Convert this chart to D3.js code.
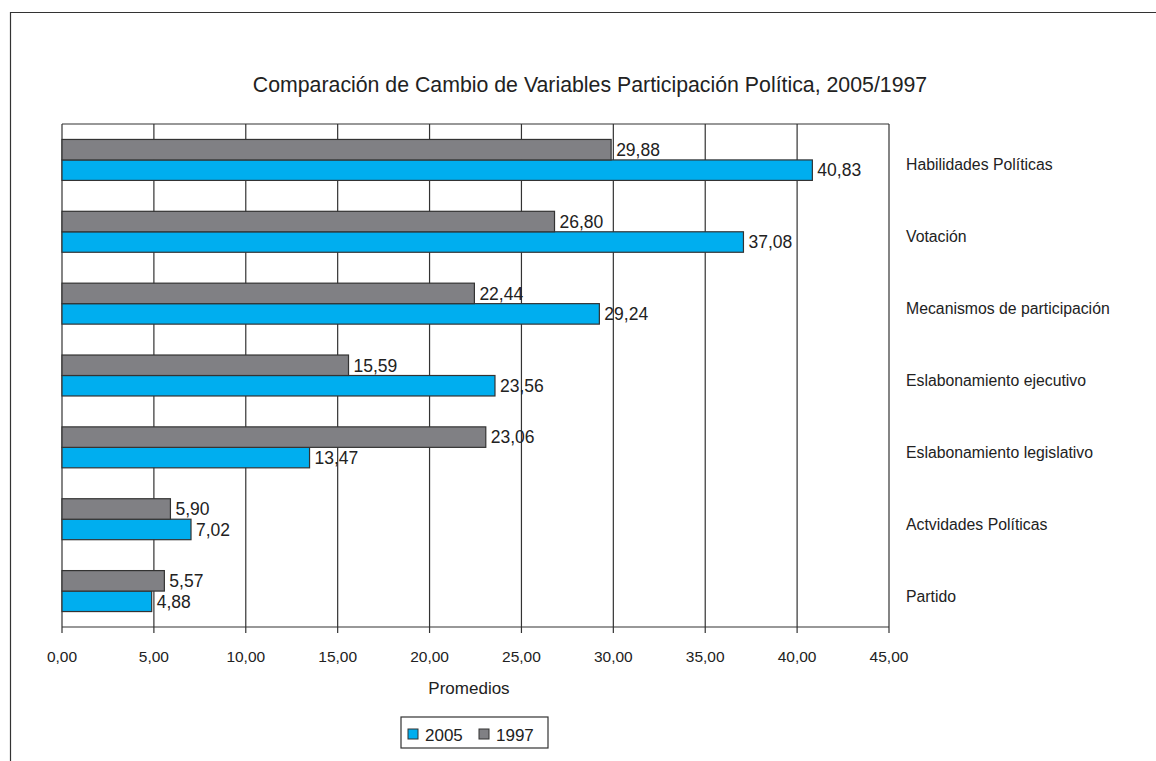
<!DOCTYPE html>
<html><head><meta charset="utf-8">
<script src="https://cdn.jsdelivr.net/npm/d3@7"></script>
<style>body{margin:0;background:#fff;font-family:"Liberation Sans",Arial,sans-serif;}</style>
</head><body>
<svg id="c" width="1156" height="761"></svg>
<script>
const categories = ["Habilidades Políticas","Votación","Mecanismos de participación","Eslabonamiento ejecutivo","Eslabonamiento legislativo","Actvidades Políticas","Partido"];
const values2005 = [40.83, 37.08, 29.24, 23.56, 13.47, 7.02, 4.88];
const values1997 = [29.88, 26.80, 22.44, 15.59, 23.06, 5.90, 5.57];
const seriesNames = ["2005","1997"];
const xTicks = [0,5,10,15,20,25,30,35,40,45];
const title = "Comparación de Cambio de Variables Participación Política, 2005/1997";
const xTitle = "Promedios";

const colors = {"2005":"#00aeef","1997":"#808084"};
const fmt = v => v.toFixed(2).replace(".", ",");
const svg = d3.select("#c");
const L=62, R=889, T=124, B=627;
const x = d3.scaleLinear().domain([0,45]).range([L,R]);
const y = d3.scaleBand().domain(categories).range([T,B]).paddingInner(0.43).paddingOuter(0.215);
const sub = d3.scaleBand().domain(["1997","2005"]).range([0,y.bandwidth()]);

// frame
svg.append("path").attr("d","M10.5,761 V12.5 H1156").attr("fill","none").attr("stroke","#333").attr("stroke-width",1.2);

svg.append("text").attr("x",590).attr("y",92).attr("text-anchor","middle").attr("font-size",21.3).attr("fill","#222").text(title);

// grid
svg.append("g").selectAll("line").data(xTicks).join("line")
  .attr("x1",d=>x(d)).attr("x2",d=>x(d)).attr("y1",T).attr("y2",B+6)
  .attr("stroke","#333").attr("stroke-width",1.2);
svg.append("line").attr("x1",L).attr("x2",R).attr("y1",T).attr("y2",T).attr("stroke","#333").attr("stroke-width",1.2);
svg.append("line").attr("x1",L).attr("x2",R).attr("y1",B).attr("y2",B).attr("stroke","#333").attr("stroke-width",1.2);

const data = categories.map((c,i)=>({c, "2005":values2005[i], "1997":values1997[i]}));
seriesNames.forEach(s=>{
  const g = svg.append("g");
  g.selectAll("rect").data(data).join("rect")
    .attr("x",x(0)).attr("y",d=>y(d.c)+sub(s)).attr("width",d=>x(d[s])-x(0)).attr("height",sub.bandwidth())
    .attr("fill",colors[s]).attr("stroke","#333").attr("stroke-width",1.2);
  g.selectAll("text").data(data).join("text")
    .attr("x",d=>x(d[s])+5).attr("y",d=>y(d.c)+sub(s)+sub.bandwidth()/2+6.3)
    .attr("font-size",17.5).attr("fill","#222").text(d=>fmt(d[s]));
});

// category labels
svg.append("g").selectAll("text").data(categories).join("text")
  .attr("x",906).attr("y",d=>y(d)+y.bandwidth()/2+10.5).attr("font-size",15.8).attr("fill","#222").text(d=>d);

// tick labels
svg.append("g").selectAll("text").data(xTicks).join("text")
  .attr("x",d=>x(d)).attr("y",662).attr("text-anchor","middle").attr("font-size",15.5).attr("fill","#222").text(d=>fmt(d));

svg.append("text").attr("x",469).attr("y",694).attr("text-anchor","middle").attr("font-size",17).attr("fill","#222").text(xTitle);

// legend
const lg = svg.append("g");
lg.append("rect").attr("x",401).attr("y",717).attr("width",147).attr("height",31).attr("fill","#fff").attr("stroke","#333").attr("stroke-width",1.2);
const legItems = [{s:"2005",x:408},{s:"1997",x:479}];
lg.selectAll("g").data(legItems).join("g").each(function(d){
  const g=d3.select(this);
  g.append("rect").attr("x",d.x).attr("y",729).attr("width",10).attr("height",10).attr("fill",colors[d.s]).attr("stroke","#333");
  g.append("text").attr("x",d.x+17).attr("y",741).attr("font-size",17).attr("fill","#222").text(d.s);
});
</script>
</body></html>
